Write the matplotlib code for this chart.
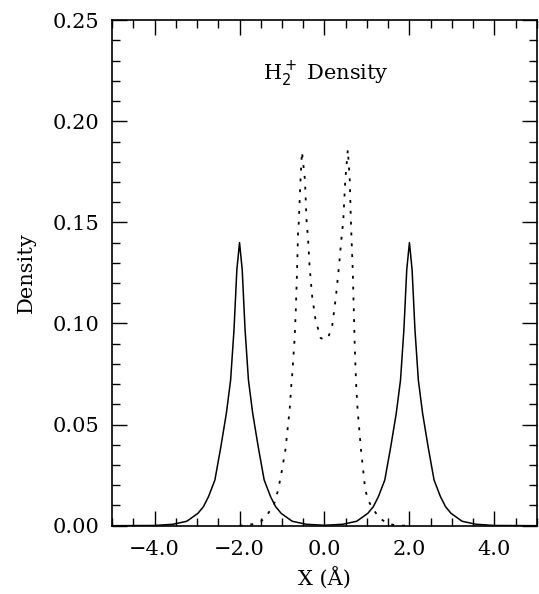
import matplotlib
matplotlib.use("Agg")
import matplotlib.pyplot as plt
from matplotlib.ticker import MultipleLocator, FuncFormatter

plt.rcParams['font.family'] = ['DejaVu Serif']

# solid curve
solid_x = [-5.0, -4.0, -3.57, -3.24, -2.98, -2.85, -2.73, -2.58, -2.44, -2.31,
           -2.21, -2.13, -2.063, -2.0, -1.937, -1.87, -1.79, -1.69, -1.56,
           -1.42, -1.27, -1.15, -1.02, -0.76, -0.43, 0.0,
           0.43, 0.76, 1.02, 1.15, 1.27, 1.42, 1.56, 1.69, 1.79, 1.87, 1.937,
           2.0, 2.063, 2.13, 2.21, 2.31, 2.44, 2.58, 2.73, 2.85, 2.98, 3.24,
           3.57, 4.0, 5.0]
solid_y = [0.0, 0.0001, 0.0007, 0.0022, 0.0061, 0.0094, 0.0144, 0.0226, 0.039,
           0.0556, 0.072, 0.097, 0.1266, 0.140, 0.1266, 0.097, 0.072, 0.0556,
           0.039, 0.0226, 0.0144, 0.0094, 0.0061, 0.0022, 0.0007, 0.0002,
           0.0007, 0.0022, 0.0061, 0.0094, 0.0144, 0.0226, 0.039, 0.0556,
           0.072, 0.097, 0.1266, 0.140, 0.1266, 0.097, 0.072, 0.0556, 0.039,
           0.0226, 0.0144, 0.0094, 0.0061, 0.0022, 0.0007, 0.0001, 0.0]

# dotted curve
dot_x = [-2.0, -1.9, -1.7, -1.5, -1.35, -1.19, -1.09, -1.0, -0.92, -0.87,
         -0.82, -0.78, -0.76, -0.705, -0.675, -0.645, -0.62, -0.605, -0.565,
         -0.53, -0.46, -0.42, -0.39, -0.35, -0.29, -0.21, -0.09, 0.0, 0.085,
         0.18, 0.27, 0.34, 0.41, 0.44, 0.49, 0.55, 0.595, 0.626, 0.665, 0.69,
         0.713, 0.745, 0.78, 0.82, 0.86, 0.91, 0.96, 1.04, 1.16, 1.28, 1.47,
         1.67, 1.9, 2.0]
dot_y = [0.0, 0.0002, 0.0007, 0.002, 0.0053, 0.0105, 0.0177, 0.0276, 0.0375,
         0.0474, 0.0573, 0.0697, 0.0746, 0.0919, 0.1068, 0.1266, 0.1464,
         0.150, 0.171, 0.185, 0.171, 0.150, 0.143, 0.128, 0.1134, 0.1018,
         0.0928, 0.092, 0.093, 0.0985, 0.1134, 0.128, 0.1445, 0.150, 0.171,
         0.186, 0.171, 0.148, 0.1266, 0.1068, 0.0886, 0.070, 0.0573, 0.0474,
         0.0375, 0.0276, 0.0177, 0.012, 0.0078, 0.0041, 0.0012, 0.0002, 0.0,
         0.0]


def fmt(v, decimals):
    return ('%.*f' % (decimals, v)).replace('-', '\u2212')


fig = plt.figure(figsize=(5.39, 5.94), dpi=100)
ax = fig.add_axes([0.208, 0.115, 0.788, 0.851])

ax.plot(solid_x, solid_y, color='black', lw=1.1)
ax.plot(dot_x, dot_y, color='black', lw=1.3, ls=(0, (1.6, 4.4)))

ax.set_xlim(-5, 5)
ax.set_ylim(0, 0.25)

ax.xaxis.set_major_locator(MultipleLocator(2.0))
ax.xaxis.set_minor_locator(MultipleLocator(0.5))
ax.yaxis.set_major_locator(MultipleLocator(0.05))
ax.yaxis.set_minor_locator(MultipleLocator(0.01))
ax.xaxis.set_major_formatter(FuncFormatter(lambda v, p: fmt(v, 1)))
ax.yaxis.set_major_formatter(FuncFormatter(lambda v, p: fmt(v, 2)))

ax.tick_params(which='both', direction='in', top=True, right=True,
               labelsize=15, width=1.0)
ax.tick_params(axis='x', which='both', pad=10)
ax.tick_params(axis='y', which='both', pad=9)
ax.tick_params(which='major', length=11)
ax.tick_params(which='minor', length=5.5)
for s in ax.spines.values():
    s.set_linewidth(1.2)

ax.set_xlabel('X (Å)', fontsize=15, labelpad=6)
ax.set_ylabel('Density', fontsize=15, labelpad=12)

ax.text(-1.45, 0.223, r'H$_2^+$ Density', fontsize=15, ha='left', va='center')

fig.savefig('out.png', dpi=100)
